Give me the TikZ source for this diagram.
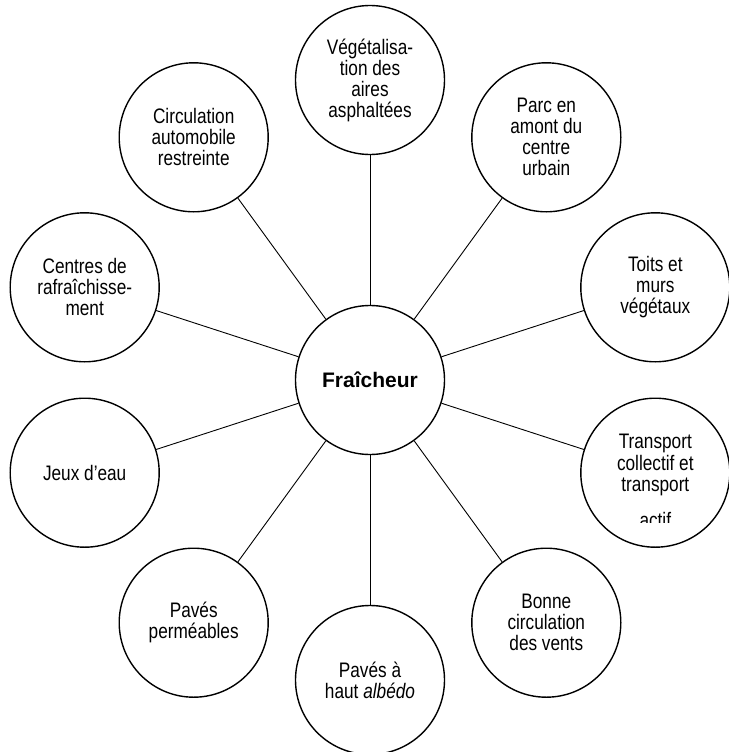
\documentclass[tikz,border=0pt]{standalone}
\usepackage{fontspec}
\setmainfont{Liberation Sans}
\newfontfamily\narrowfont[FakeStretch=0.82]{Liberation Sans}
\begin{document}
\begin{tikzpicture}[x=1pt,y=-1pt,
  bubble/.style={circle,draw,line width=1.4pt,minimum size=149pt,inner sep=0pt,
    align=center,font=\narrowfont\fontsize{21}{21}\selectfont},
  hubnode/.style={bubble,font=\bfseries\fontsize{21}{24}\selectfont},
  labeltext/.style={align=center,inner sep=0pt,font=\narrowfont\fontsize{21}{21.5}\selectfont},
  spoke/.style={line width=0.9pt}]
\useasboundingbox (0,0) rectangle (728,752);
\node[hubnode] (c) at (370,380) {Fraîcheur};
\node[bubble] (n1) at (370,80) {Végétalisa-\\tion des\\aires\\asphaltées};
\node[bubble] (n2) at (546.3,137.3) {Parc en\\amont du\\centre\\urbain};
\node[bubble] (n3) at (655.3,287.3) {Toits et\\murs\\végétaux};
\node[bubble] (n4) at (655.3,472.7) {};
\node[bubble] (n5) at (546.3,622.7) {Bonne\\circulation\\des vents};
\node[bubble] (n6) at (370,680) {Pavés à\\haut \textit{albédo}};
\node[bubble] (n7) at (193.7,622.7) {Pavés\\perméables};
\node[bubble] (n8) at (84.7,472.7) {Jeux d’eau};
\node[bubble] (n9) at (84.7,287.3) {Centres de\\rafraîchisse-\\ment};
\node[bubble] (n10) at (193.7,137.3) {Circulation\\automobile\\restreinte};
\begin{scope}
  \clip (560,400) rectangle (728,522);
  \node[labeltext] (t4) at (655.3,481) {Transport\\collectif et\\transport\\[14pt]actif};
\end{scope}
\foreach \i in {1,...,10} \draw[spoke] (c) -- (n\i);
\end{tikzpicture}
\end{document}
